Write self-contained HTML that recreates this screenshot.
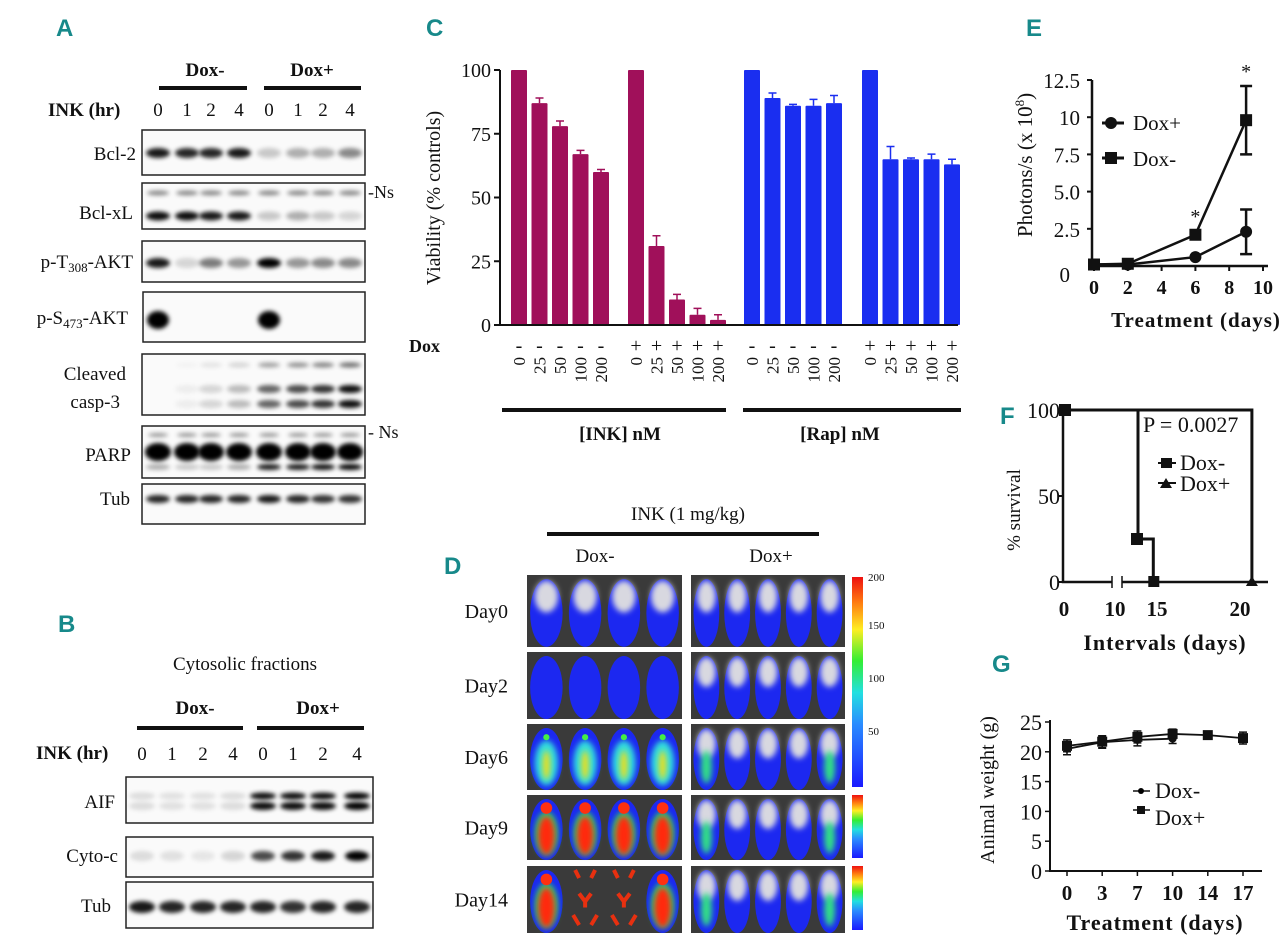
<!DOCTYPE html>
<html><head><meta charset="utf-8">
<style>
html,body{margin:0;padding:0;background:#fff;}
svg{display:block;}
text{font-family:"Liberation Serif",serif;fill:#111;}
.pl{font-family:"Liberation Sans",sans-serif;font-weight:bold;fill:#17898a;font-size:24px;}
.b{font-weight:bold;}
</style></head>
<body>
<svg id="fig" width="1280" height="943" viewBox="0 0 1280 943" xmlns="http://www.w3.org/2000/svg">
<defs>
<filter id="blur" x="-50%" y="-100%" width="200%" height="300%"><feGaussianBlur stdDeviation="2.2"/></filter>
<filter id="blur2" x="-50%" y="-50%" width="200%" height="200%"><feGaussianBlur stdDeviation="3"/></filter>
<linearGradient id="cbar" x1="0" y1="1" x2="0" y2="0">
<stop offset="0" stop-color="#1a1aff"/><stop offset="0.3" stop-color="#2a8cff"/><stop offset="0.45" stop-color="#22e0e0"/><stop offset="0.6" stop-color="#33ee33"/><stop offset="0.75" stop-color="#ffee22"/><stop offset="0.88" stop-color="#ff7a10"/><stop offset="1" stop-color="#ee1010"/>
</linearGradient>
</defs>
<text class="pl" x="56" y="36">A</text>
<text class="pl" x="58" y="632">B</text>
<text class="pl" x="426" y="36">C</text>
<text class="pl" x="444" y="574">D</text>
<text class="pl" x="1026" y="36">E</text>
<text class="pl" x="1000" y="424">F</text>
<text class="pl" x="992" y="672">G</text>

<g>
<text x="205" y="76" font-size="19" class="b" text-anchor="middle">Dox-</text>
<text x="312" y="76" font-size="19" class="b" text-anchor="middle">Dox+</text>
<rect x="159" y="86" width="88" height="4" fill="#111"/>
<rect x="264" y="86" width="97" height="4" fill="#111"/>
<text x="48" y="116" font-size="19" class="b">INK (hr)</text>
</g>
<g id="blotA"></g>
<g>
<text x="245" y="670" font-size="19" text-anchor="middle">Cytosolic fractions</text>
<text x="195" y="714" font-size="19" class="b" text-anchor="middle">Dox-</text>
<text x="318" y="714" font-size="19" class="b" text-anchor="middle">Dox+</text>
<rect x="137" y="726" width="106" height="4" fill="#111"/>
<rect x="257" y="726" width="107" height="4" fill="#111"/>
<text x="36" y="759" font-size="19" class="b">INK (hr)</text>
</g>
<g id="blotB"></g>

<g id="chartC"></g>
<g id="panelD"></g>
<g id="chartE"></g>
<g id="chartF"></g>
<g id="chartG"></g>
</svg>
<script>
// ---------- Chart C data ----------
const cGroups = ["INK Dox-", "INK Dox+", "Rap Dox-", "Rap Dox+"];
const cDoses = ["0", "25", "50", "100", "200"];
const cInkMinus = [100, 87, 78, 67, 60];
const cInkMinusErr = [0, 2, 2, 1.5, 1];
const cInkPlus = [100, 31, 10, 4, 2];
const cInkPlusErr = [0, 4, 2, 2.5, 2];
const cRapMinus = [100, 89, 86, 86, 87];
const cRapMinusErr = [0, 2, 0.5, 2.5, 3];
const cRapPlus = [100, 65, 65, 65, 63];
const cRapPlusErr = [0, 5, 0.5, 2, 2];
const cTicks = [0, 25, 50, 75, 100];
// ---------- Chart E data ----------
const eDays = [0, 2, 6, 9];
const eDoxPlus = [0.1, 0.1, 0.6, 2.3];
const eDoxPlusErr = [0, 0, 0, 1.5];
const eDoxMinus = [0.1, 0.15, 2.1, 9.8];
const eDoxMinusErr = [0, 0, 0, 2.3];
const eYTicks = ["0", "2.5", "5.0", "7.5", "10", "12.5"];
const eYTickVals = [0, 2.5, 5, 7.5, 10, 12.5];
const eXTicks = [0, 2, 4, 6, 8, 10];
// ---------- Chart F data ----------
const fDoxMinusT = [0, 14.0, 14.0, 14.9, 14.9];
const fDoxMinusS = [100, 100, 25, 25, 0];
const fDoxPlusT = [0, 20.7, 20.7];
const fDoxPlusS = [100, 100, 0];
const fXTicks = [0, 10, 15, 20];
const fYTicks = [0, 50, 100];
// ---------- Chart G data ----------
const gDays = ["0", "3", "7", "10", "14", "17"];
const gDoxMinus = [20.5, 21.6, 22.0, 22.2];
const gDoxPlus = [21.0, 21.7, 22.5, 23.0, 22.8, 22.3];
const gErr = [1, 1, 1, 0.8, 0.6, 1];
const gYTicks = [0, 5, 10, 15, 20, 25];
// ---------- Blot data ----------
const aBcl2 = [0.9,0.85,0.85,0.9,0.2,0.3,0.3,0.45];
const aBclxL = [0.95,0.95,0.9,0.9,0.2,0.3,0.2,0.15];
const aPT308 = [0.9,0.15,0.5,0.4,1,0.4,0.45,0.45];
const aPS473 = [1,0,0,0,1,0,0,0];
const aCasp = [0,0.05,0.15,0.25,0.6,0.7,0.8,0.95];
const aParp = [1,1,1,1,1,1,1,1];
const aTub = [0.85,0.85,0.85,0.85,0.9,0.85,0.8,0.8];
const bAIF = [0.12,0.1,0.1,0.12,0.95,0.95,0.95,1];
const bCyto = [0.12,0.1,0.08,0.15,0.7,0.8,0.9,1];
const bTub = [0.9,0.85,0.85,0.85,0.85,0.8,0.85,0.85];

const NS = "http://www.w3.org/2000/svg";
function mk(tag, attrs, parent){const e=document.createElementNS(NS,tag);for(const k in attrs)e.setAttribute(k,attrs[k]);parent.appendChild(e);return e;}
function txt(s, attrs, parent){const e=mk("text",attrs,parent);e.textContent=s;return e;}

const laneA=[158,187,211,239,269,298,323,350];
const gA=document.getElementById("blotA");
laneA.forEach((x,i)=>{const t=txt(["0","1","2","4"][i%4],{x:x,y:116,"font-size":19,"text-anchor":"middle"},gA);

});
function blotBox(g,x1,x2,y1,y2,name){
 const r=mk("rect",{x:x1,y:y1,width:x2-x1,height:y2-y1,fill:"#fafafa",stroke:"#222","stroke-width":1.5},g);
 
 
}
function bands(g,lanes,vals,cy,w,h,name){
 vals.forEach((v,i)=>{if(v<=0)return;
  const e=mk("ellipse",{cx:lanes[i],cy:cy,rx:w/2,ry:h/2,fill:"#000","fill-opacity":v,filter:"url(#blur)"},g);
  
  
 });
}
function rowLabel(g,s,x,y){const t=txt(s,{x:x,y:y,"font-size":19,"text-anchor":"end"},g);
 
 return t;}
blotBox(gA,142,365,130,175,"bcl2-blot");
bands(gA,laneA,aBcl2,153,24,10,"bcl2-band");
rowLabel(gA,"Bcl-2",136,160);
blotBox(gA,142,365,183,229,"bclxl-blot");
bands(gA,laneA,aBcl2.map(v=>0.45),193,22,5,"ns-band");
bands(gA,laneA,aBclxL,216,24,9,"bclxl-band");
rowLabel(gA,"Bcl-xL",133,219);
txt("-Ns",{x:368,y:198,"font-size":18},gA);
blotBox(gA,142,365,241,282,"pt308-blot");
bands(gA,laneA,aPT308,263,24,10,"pt308-band");
const lt=txt("",{x:133,y:268,"font-size":19,"text-anchor":"end"},gA);
lt.innerHTML='p-T<tspan font-size="13" dy="4">308</tspan><tspan dy="-4">-AKT</tspan>';
blotBox(gA,143,365,292,342,"ps473-blot");
bands(gA,laneA,aPS473,320,22,18,"ps473-band");
const ls=txt("",{x:128,y:324,"font-size":19,"text-anchor":"end"},gA);
ls.innerHTML='p-S<tspan font-size="13" dy="4">473</tspan><tspan dy="-4">-AKT</tspan>';
blotBox(gA,142,365,354,415,"casp3-blot");
bands(gA,laneA,aCasp.map(v=>v*0.6),365,22,5,"casp3-band-top");
bands(gA,laneA,aCasp,389,24,8,"casp3-band-mid");
bands(gA,laneA,aCasp,404,24,8,"casp3-band-low");
rowLabel(gA,"Cleaved",126,380); rowLabel(gA,"casp-3",120,408);
blotBox(gA,142,365,426,478,"parp-blot");
bands(gA,laneA,aParp.map(v=>0.4),435,20,4,"parp-ns-band");
bands(gA,laneA,aParp,452,26,18,"parp-band");
bands(gA,laneA,[0.3,0.2,0.2,0.3,0.9,0.9,0.95,1],467,24,6,"parp-cleaved-band");
rowLabel(gA,"PARP",131,461); txt("- Ns",{x:368,y:438,"font-size":18},gA);
blotBox(gA,142,365,484,524,"tub-blot-a");
bands(gA,laneA,aTub,499,24,8,"tub-band");
rowLabel(gA,"Tub",130,505);

const laneB=[142,172,203,233,263,293,323,357];
const gB=document.getElementById("blotB");
laneB.forEach((x,i)=>{const t=txt(["0","1","2","4"][i%4],{x:x,y:760,"font-size":19,"text-anchor":"middle"},gB);

});
blotBox(gB,126,373,777,823,"aif-blot");
bands(gB,laneB,bAIF,796,26,7,"aif-band");
bands(gB,laneB,bAIF,806,26,8,"aif-band-lower");
rowLabel(gB,"AIF",115,808);
blotBox(gB,126,373,837,877,"cytoc-blot");
bands(gB,laneB,bCyto,856,24,10,"cytoc-band");
rowLabel(gB,"Cyto-c",118,862);
blotBox(gB,126,373,882,928,"tub-blot-b");
bands(gB,laneB,bTub,907,26,12,"tub-band-b");
rowLabel(gB,"Tub",111,912);

// ---------- Chart C ----------
(function(){
 const g=document.getElementById("chartC");
 const y0=325,y100=70; const ys=v=>y0-(v/100)*(y0-y100);
 const groupStart=[519,636,752,870], step=20.5, bw=16;
 const xs=(gi,i)=>groupStart[gi]+i*step;
 const sets=[[cInkMinus,cInkMinusErr,"#a0105a"],[cInkPlus,cInkPlusErr,"#a0105a"],[cRapMinus,cRapMinusErr,"#1a2ef0"],[cRapPlus,cRapPlusErr,"#1a2ef0"]];
 sets.forEach((s,gi)=>{
  s[0].forEach((v,i)=>{
   const x=xs(gi,i);
   const r=mk("rect",{x:x-bw/2,y:ys(v),width:bw,height:y0-ys(v),fill:s[2],rx:1},g);
   
   
   if(s[1][i]>0){
    const ye=ys(v+s[1][i]);
    const l=mk("path",{d:`M${x} ${ys(v)}V${ye}M${x-4} ${ye}H${x+4}`,stroke:s[2],"stroke-width":1.5,fill:"none"},g);
    
    
   }
   const sign=txt(gi%2?"+":"-",{x:x,y:352,"font-size":20,"text-anchor":"middle"},g);
   
   
   const d=txt(cDoses[i],{x:0,y:0,"font-size":17,"text-anchor":"end",transform:`translate(${x+6},357) rotate(-90)`},g);
   
   
  });
 });
 const ax=mk("path",{d:`M500 ${y100}V${y0}H958`,stroke:"#111","stroke-width":2,fill:"none"},g);
 
 
 cTicks.forEach(t=>{
  const tk=mk("line",{x1:494,x2:500,y1:ys(t),y2:ys(t),stroke:"#111","stroke-width":2},g);
  
  
  const tl=txt(String(t),{x:491,y:ys(t)+7,"font-size":20,"text-anchor":"end"},g);
  
  
 });
 const yt=txt("Viability  (% controls)",{x:0,y:0,"font-size":20,"text-anchor":"middle",transform:"translate(440,198) rotate(-90)"},g);
 
 
 const dx=txt("Dox",{x:409,y:352,"font-size":18,"font-weight":"bold"},g);
 
 
 const l1=mk("rect",{x:502,y:408,width:224,height:4,fill:"#111"},g);
 
 
 const l2=mk("rect",{x:743,y:408,width:218,height:4,fill:"#111"},g);
 
 
 const t1=txt("[INK]  nM",{x:620,y:440,"font-size":19,"font-weight":"bold","text-anchor":"middle"},g);
 
 
 const t2=txt("[Rap]  nM",{x:840,y:440,"font-size":19,"font-weight":"bold","text-anchor":"middle"},g);
 
 
})();

// ---------- Panel D ----------
(function(){
 const g=document.getElementById("panelD");
 const t=txt("INK (1 mg/kg)",{x:688,y:520,"font-size":19,"text-anchor":"middle"},g);
 
 
 mk("rect",{x:547,y:532,width:272,height:4,fill:"#111"},g);
 txt("Dox-",{x:595,y:562,"font-size":19,"text-anchor":"middle"},g);
 txt("Dox+",{x:771,y:562,"font-size":19,"text-anchor":"middle"},g);
 const rows=[[575,647,"Day0"],[652,719,"Day2"],[724,790,"Day6"],[795,860,"Day9"],[866,933,"Day14"]];
 const cols=[[527,682,4],[691,845,5]];
 const lvl=[[0,0],[1,0],[2,0.5],[3,0.5],[4,0.5]];
 rows.forEach((r,ri)=>{
  const lab=txt(r[2],{x:508,y:(r[0]+r[1])/2+7,"font-size":20,"text-anchor":"end"},g);
  
  
  cols.forEach((c,ci)=>{
   const img=mk("rect",{x:c[0],y:r[0],width:c[1]-c[0],height:r[1]-r[0],fill:"#3a3a3a"},g);
   
   
   const n=c[2], w=(c[1]-c[0])/n, h=r[1]-r[0];
   const L=lvl[ri][ci];
   for(let i=0;i<n;i++){
    const cx=c[0]+w*(i+0.5), cy=r[0]+h/2;
    if(ri===4&&ci===0&&(i===1||i===2)){
     mk("path",{d:`M${cx-10} ${r[0]+4}l4 8M${cx+10} ${r[0]+4}l-4 8M${cx-6} ${cy-6}l6 8l6-8M${cx} ${cy+2}v6M${cx-12} ${r[1]-18}l6 10M${cx+12} ${r[1]-18}l-6 10`,stroke:"#e83010","stroke-width":4,fill:"none"},g);
     continue;
    }
    mk("ellipse",{cx:cx,cy:cy+2,rx:w*0.42,ry:h*0.47,fill:"#1c28f0"},g);
    if(L===0||L===0.5) mk("ellipse",{cx:cx,cy:r[0]+h*0.3,rx:w*0.3,ry:h*0.22,fill:"#d8d8e0",filter:"url(#blur2)"},g);
    if(L>=2&&ci===0){
     mk("ellipse",{cx:cx,cy:cy+6,rx:w*0.3,ry:h*0.34,fill:L>=3?"#22dd66":"#33dddd",filter:"url(#blur2)"},g);
     mk("ellipse",{cx:cx,cy:cy+8,rx:w*(L>=3?0.22:0.1),ry:h*(L>=3?0.3:0.22),fill:L>=3?"#ff2a10":"#e8e020",filter:"url(#blur2)"},g);
     mk("circle",{cx:cx,cy:r[0]+h*0.2,r:w*(L>=3?0.15:0.08),fill:L>=3?"#ff3010":"#44ee44"},g);
    }
    if(L===0.5&&(i===0||i===n-1)){
     mk("ellipse",{cx:cx,cy:cy+10,rx:w*0.18,ry:h*0.25,fill:"#33dd88",filter:"url(#blur2)"},g);
    }
   }
  });
 });
 [[577,787],[795,858],[866,930]].forEach(b=>{
  const cb=mk("rect",{x:852,y:b[0],width:11,height:b[1]-b[0],fill:"url(#cbar)"},g);
  
  
 });
 [["200",577],["150",625],["100",678],["50",731]].forEach(v=>{
  txt(v[0],{x:868,y:v[1]+4,"font-size":11,fill:"#555"},g);
 });
})();

// ---------- Chart E ----------
(function(){
 const g=document.getElementById("chartE");
 const X0=1094,X10=1263,Y0=266,Ytop=80;
 const xs=d=>X0+d/10*(X10-X0), ys=v=>Y0-v/12.5*(Y0-Ytop);
 const ax=mk("path",{d:`M1092 ${Ytop}V${Y0}H1268`,stroke:"#111","stroke-width":2.5,fill:"none"},g);
 
 
 eYTickVals.forEach((v,i)=>{
  if(i>0) mk("line",{x1:1087,x2:1092,y1:ys(v),y2:ys(v),stroke:"#111","stroke-width":2},g);
  const t=txt(eYTicks[i],{x:i===0?1070:1080,y:ys(v)+(i===0?16:8),"font-size":21,"text-anchor":"end"},g);
  
  
 });
 eXTicks.forEach(d=>{
  mk("line",{x1:xs(d),x2:xs(d),y1:Y0,y2:Y0+5,stroke:"#111","stroke-width":2},g);
  const t=txt(String(d),{x:xs(d),y:294,"font-size":20,"font-weight":"bold","text-anchor":"middle"},g);
  
  
 });
 const xt=txt("Treatment (days)",{x:1196,y:327,"font-size":21,"font-weight":"bold","text-anchor":"middle","letter-spacing":"1"},g);
 
 
 const yt=txt("",{x:0,y:0,"font-size":21,"text-anchor":"middle",transform:"translate(1032,165) rotate(-90)"},g);
 yt.innerHTML='Photons/s (x 10<tspan font-size="13" dy="-8">8</tspan><tspan dy="8">)</tspan>';
 
 
 function series(vals,errs,shape,name){
  const p=mk("polyline",{points:eDays.map((d,i)=>xs(d)+","+ys(vals[i])).join(" "),fill:"none",stroke:"#111","stroke-width":2.5},g);
  
  
  eDays.forEach((d,i)=>{
   if(errs[i]>0){
    const e=mk("path",{d:`M${xs(d)} ${ys(vals[i]-errs[i])}V${ys(vals[i]+errs[i])}M${xs(d)-6} ${ys(vals[i]-errs[i])}h12M${xs(d)-6} ${ys(vals[i]+errs[i])}h12`,stroke:"#111","stroke-width":2.5,fill:"none"},g);
    
    
   }
   const m= shape==="sq"?mk("rect",{x:xs(d)-6,y:ys(vals[i])-6,width:12,height:12,fill:"#111"},g):mk("circle",{cx:xs(d),cy:ys(vals[i]),r:6,fill:"#111"},g);
   
   
  });
 }
 series(eDoxPlus,eDoxPlusErr,"c","dox-plus");
 series(eDoxMinus,eDoxMinusErr,"sq","dox-minus");
 txt("*",{x:xs(6),y:ys(eDoxMinus[2])-12,"font-size":20,"text-anchor":"middle"},g);
 txt("*",{x:xs(9),y:ys(eDoxMinus[3]+eDoxMinusErr[3])-8,"font-size":20,"text-anchor":"middle"},g);
 mk("line",{x1:1102,x2:1124,y1:123,y2:123,stroke:"#111","stroke-width":3},g);
 mk("circle",{cx:1111,cy:123,r:6,fill:"#111"},g);
 const l1=txt("Dox+",{x:1133,y:130,"font-size":21},g);
 
 
 mk("line",{x1:1102,x2:1124,y1:158,y2:158,stroke:"#111","stroke-width":3},g);
 mk("rect",{x:1105,y:152,width:12,height:12,fill:"#111"},g);
 const l2=txt("Dox-",{x:1133,y:166,"font-size":21},g);
 
 
})();

// ---------- Chart F ----------
(function(){
 const g=document.getElementById("chartF");
 const xs=d=> d<=10 ? 1064+d*5.1 : 1155+(d-15)*17, ys=v=>582-v*1.72;
 const ax=mk("path",{d:`M1063 410V582H1268`,stroke:"#111","stroke-width":2.5,fill:"none"},g);
 
 
 mk("rect",{x:1112,y:574,width:10,height:14,fill:"#fff"},g);
 mk("path",{d:"M1112 576v12M1122 576v12",stroke:"#111","stroke-width":1.5},g);
 fYTicks.forEach(v=>{
  mk("line",{x1:1058,x2:1063,y1:ys(v),y2:ys(v),stroke:"#111","stroke-width":2},g);
  const t=txt(String(v),{x:1060,y:ys(v)+8,"font-size":22,"text-anchor":"end"},g);
  
  
 });
 fXTicks.forEach(d=>{
  const t=txt(String(d),{x:d===15?1157:d===20?1240:xs(d),y:616,"font-size":21,"font-weight":"bold","text-anchor":"middle"},g);
  
  
 });
 const xt=txt("Intervals (days)",{x:1165,y:650,"font-size":22,"font-weight":"bold","text-anchor":"middle","letter-spacing":"1"},g);
 
 
 const yt=txt("% survival",{x:0,y:0,"font-size":19,"text-anchor":"middle",transform:"translate(1020,510) rotate(-90)"},g);
 
 
 const p1=mk("path",{d:"M"+fDoxMinusT.map((t,i)=>xs(t)+" "+ys(fDoxMinusS[i])).join("L"),stroke:"#111","stroke-width":3,fill:"none"},g);
 
 
 const p2=mk("path",{d:"M"+fDoxPlusT.map((t,i)=>xs(t)+" "+ys(fDoxPlusS[i])).join("L"),stroke:"#111","stroke-width":3,fill:"none"},g);
 
 
 mk("rect",{x:xs(0)-5,y:ys(100)-6,width:12,height:12,fill:"#111"},g);
 mk("rect",{x:xs(14)-7,y:ys(25)-6,width:12,height:12,fill:"#111"},g);
 mk("rect",{x:xs(14.9)-5,y:ys(0)-6,width:11,height:11,fill:"#111"},g);
 mk("path",{d:`M${xs(20.7)-6} 586l6-10l6 10z`,fill:"#111"},g);
 txt("P = 0.0027",{x:1143,y:432,"font-size":22},g);
 mk("rect",{x:1161,y:458,width:11,height:10,fill:"#111"},g);
 mk("line",{x1:1158,x2:1176,y1:463,y2:463,stroke:"#111","stroke-width":2},g);
 const l1=txt("Dox-",{x:1180,y:470,"font-size":22},g);
 
 
 mk("path",{d:"M1160 488l6-10l6 10z",fill:"#111"},g);
 mk("line",{x1:1158,x2:1176,y1:483,y2:483,stroke:"#111","stroke-width":2},g);
 const l2=txt("Dox+",{x:1180,y:491,"font-size":22},g);
 
 
})();

// ---------- Chart G ----------
(function(){
 const g=document.getElementById("chartG");
 const xs=i=>1067+i*35.2, ys=v=>871-v*5.96;
 const ax=mk("path",{d:`M1050 720V871H1262`,stroke:"#111","stroke-width":2,fill:"none"},g);
 
 
 gYTicks.forEach(v=>{
  mk("line",{x1:1045,x2:1050,y1:ys(v),y2:ys(v),stroke:"#111","stroke-width":1.5},g);
  const t=txt(String(v),{x:1042,y:ys(v)+8,"font-size":22,"text-anchor":"end"},g);
  
  
 });
 gDays.forEach((d,i)=>{
  mk("line",{x1:xs(i),x2:xs(i),y1:871,y2:876,stroke:"#111","stroke-width":1.5},g);
  const t=txt(d,{x:xs(i),y:900,"font-size":21,"font-weight":"bold","text-anchor":"middle"},g);
  
  
 });
 const xt=txt("Treatment (days)",{x:1155,y:930,"font-size":22,"font-weight":"bold","text-anchor":"middle","letter-spacing":"1"},g);
 
 
 const yt=txt("Animal weight  (g)",{x:0,y:0,"font-size":20,"text-anchor":"middle",transform:"translate(994,790) rotate(-90)"},g);
 
 
 function series(vals,shape,name){
  const p=mk("polyline",{points:vals.map((v,i)=>xs(i)+","+ys(v)).join(" "),fill:"none",stroke:"#111","stroke-width":1.8},g);
  
  
  vals.forEach((v,i)=>{
   mk("path",{d:`M${xs(i)} ${ys(v-gErr[i])}V${ys(v+gErr[i])}M${xs(i)-4} ${ys(v-gErr[i])}h8M${xs(i)-4} ${ys(v+gErr[i])}h8`,stroke:"#111","stroke-width":1.5,fill:"none"},g);
   const m= shape==="sq"?mk("rect",{x:xs(i)-5,y:ys(v)-5,width:10,height:10,fill:"#111"},g):mk("circle",{cx:xs(i),cy:ys(v),r:4,fill:"#111"},g);
   
   
  });
 }
 series(gDoxMinus,"c","dox-minus");
 series(gDoxPlus,"sq","dox-plus");
 mk("line",{x1:1133,x2:1150,y1:791,y2:791,stroke:"#111","stroke-width":1.5},g);
 mk("circle",{cx:1141,cy:791,r:3},g);
 const l1=txt("Dox-",{x:1155,y:798,"font-size":22},g);
 
 
 mk("line",{x1:1133,x2:1150,y1:810,y2:810,stroke:"#111","stroke-width":1.5},g);
 mk("rect",{x:1137,y:806,width:8,height:8,fill:"#111"},g);
 const l2=txt("Dox+",{x:1155,y:825,"font-size":22},g);
 
 
})();
</script>
</body></html>
